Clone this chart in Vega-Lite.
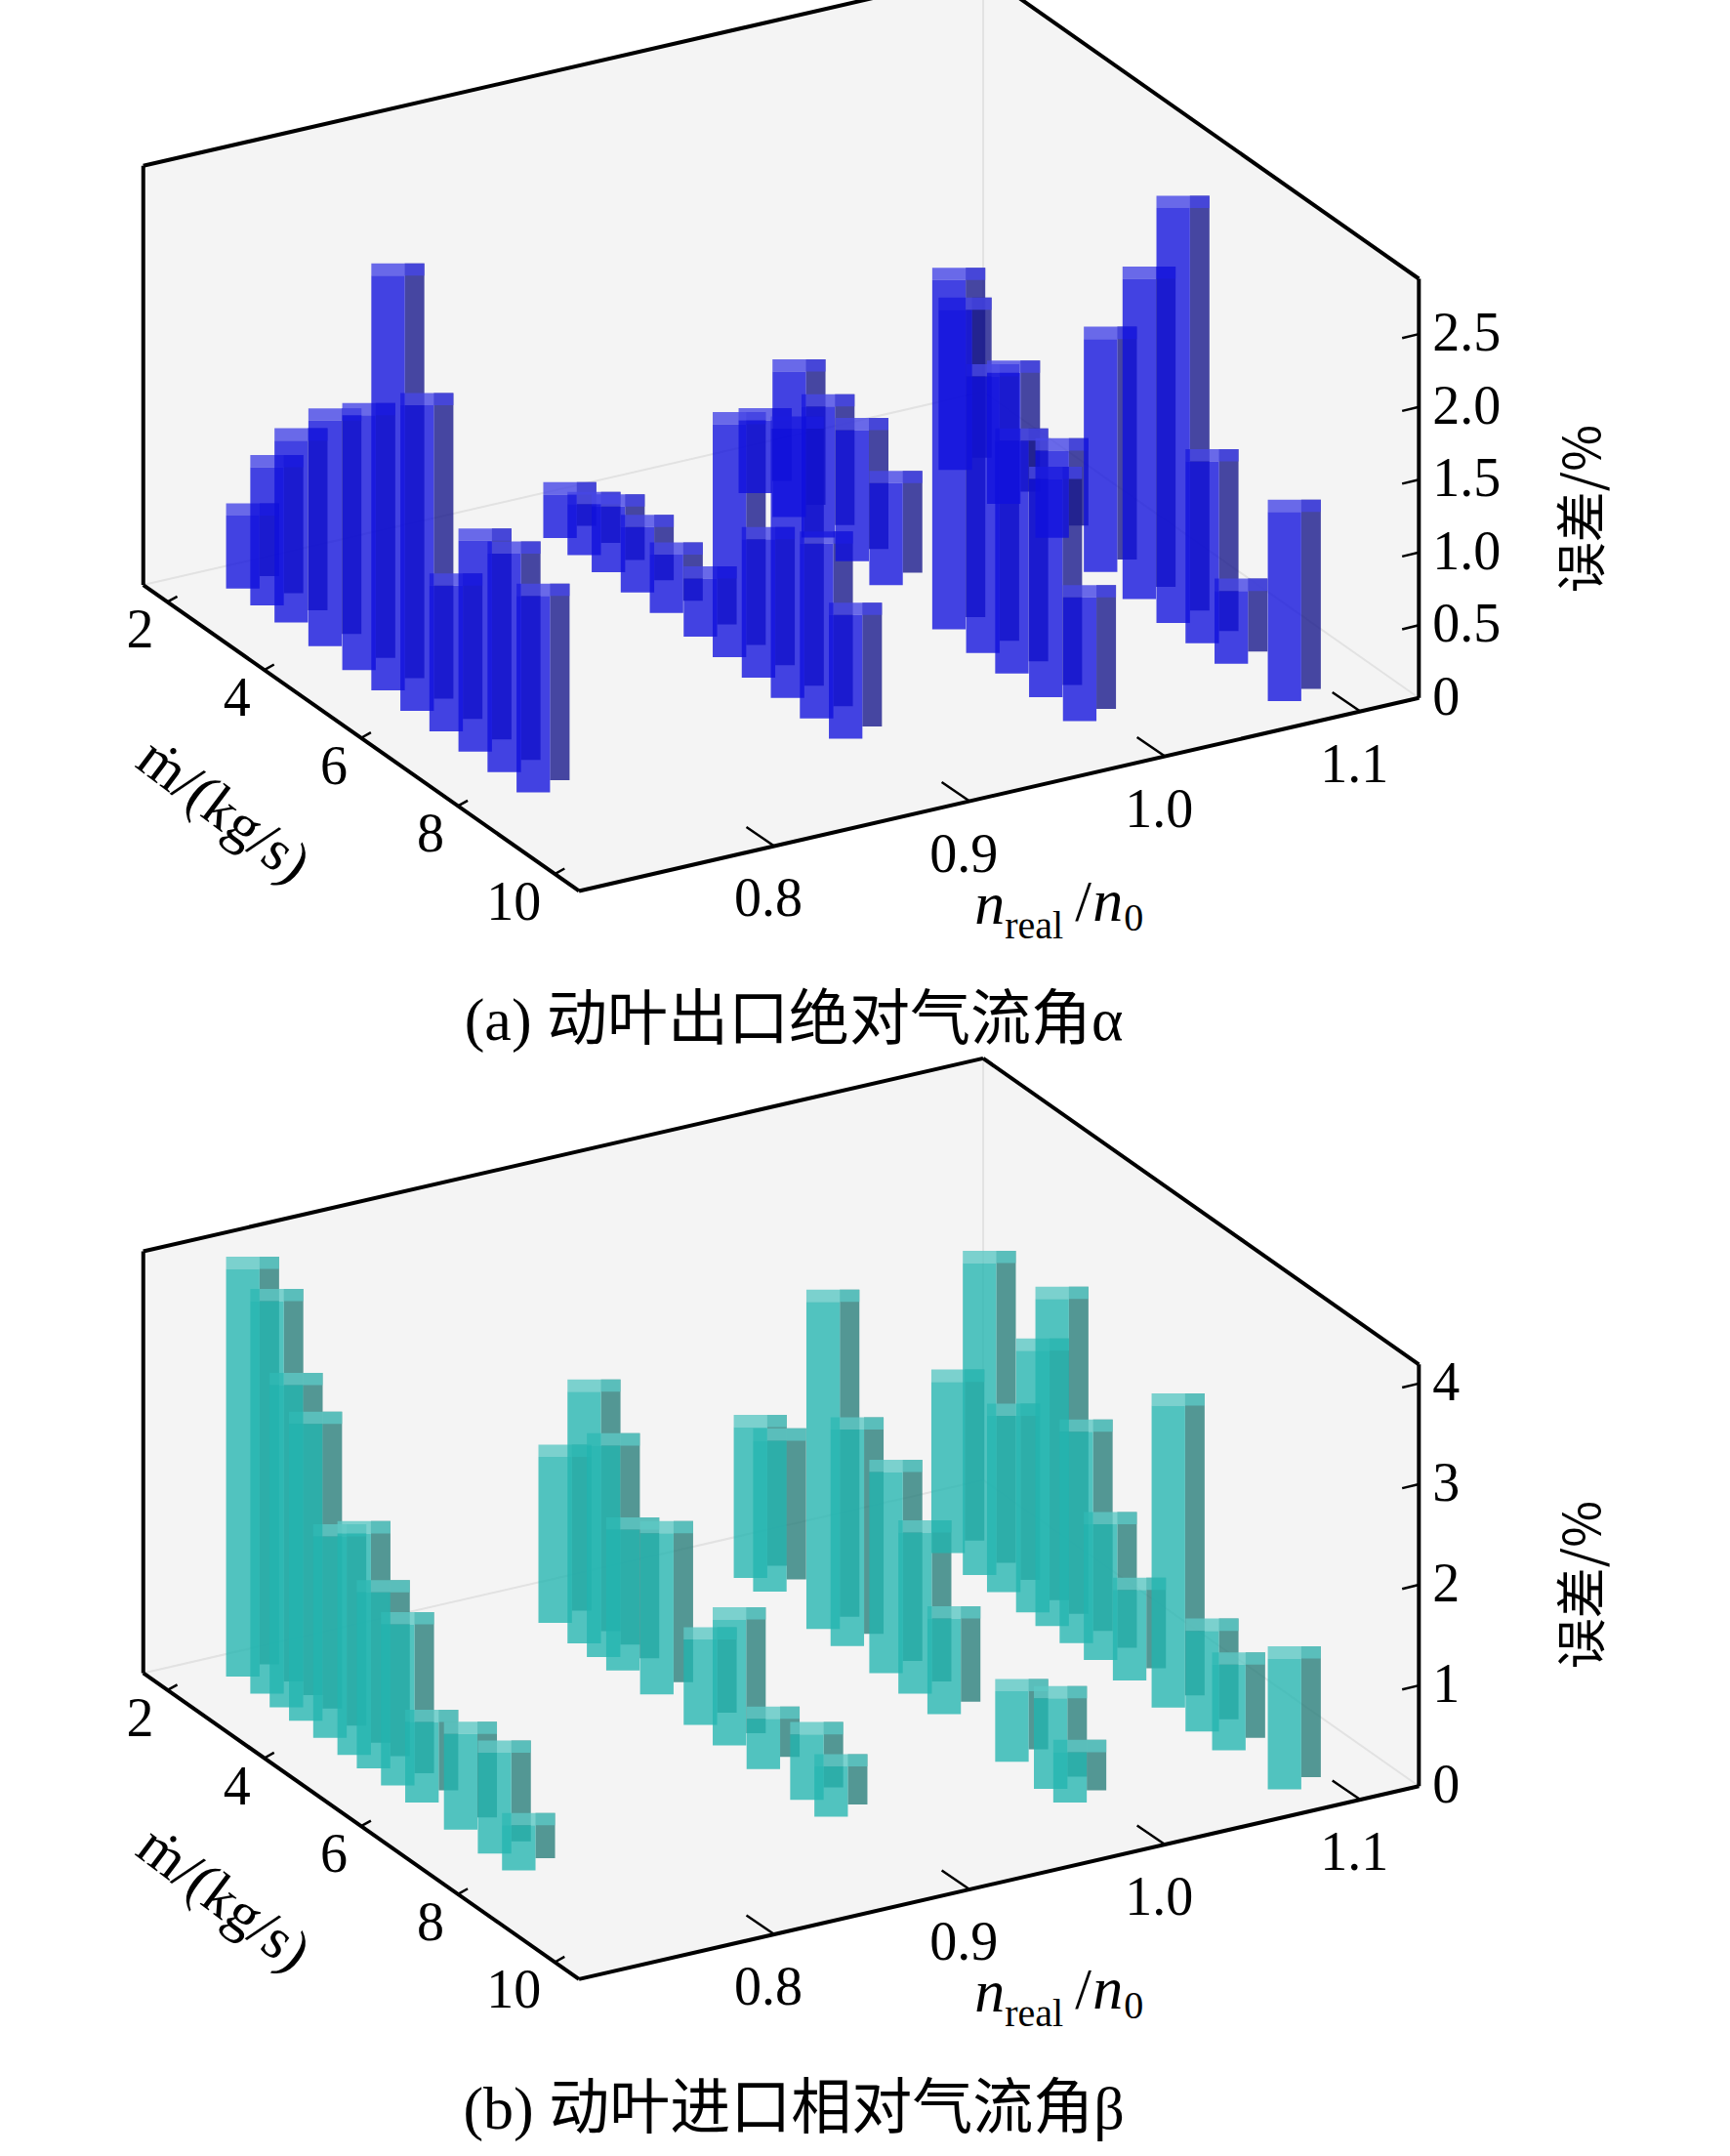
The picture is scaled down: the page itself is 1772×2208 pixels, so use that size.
{
  "$schema": "https://vega.github.io/schema/vega-lite/v6.json",
  "width": 1772,
  "height": 2208,
  "autosize": "none",
  "padding": 0,
  "background": "white",
  "config": {"view": {"stroke": null}, "text": {"font": "Liberation Serif, Noto Sans CJK SC", "fontSize": 56}},
  "datasets": {
    "bars": [
      {"panel":"a","n":1.07,"m":3,"v":1.1},{"panel":"a","n":1.07,"m":4,"v":0.9},{"panel":"a","n":1.07,"m":5,"v":0.6},{"panel":"a","n":1.07,"m":6,"v":1.6},{"panel":"a","n":1.07,"m":6.8,"v":2.2},{"panel":"a","n":1.07,"m":7.5,"v":2.85},{"panel":"a","n":1.07,"m":8.1,"v":1.25},{"panel":"a","n":1.07,"m":8.7,"v":0.5},{"panel":"a","n":1.07,"m":9.8,"v":1.3},
      {"panel":"a","n":0.98,"m":2.5,"v":0.5},{"panel":"a","n":0.98,"m":3.2,"v":1.0},{"panel":"a","n":0.98,"m":3.8,"v":0.9},{"panel":"a","n":0.98,"m":4.5,"v":0.9},{"panel":"a","n":0.98,"m":5.2,"v":0.7},{"panel":"a","n":0.98,"m":6.5,"v":2.4},{"panel":"a","n":0.98,"m":7.2,"v":1.9},{"panel":"a","n":0.98,"m":7.8,"v":1.6},{"panel":"a","n":0.98,"m":8.5,"v":1.5},{"panel":"a","n":0.98,"m":9.2,"v":0.85},
      {"panel":"a","n":0.88,"m":2.5,"v":0.3},{"panel":"a","n":0.88,"m":3,"v":0.35},{"panel":"a","n":0.88,"m":3.5,"v":0.45},{"panel":"a","n":0.88,"m":4.1,"v":0.45},{"panel":"a","n":0.88,"m":4.7,"v":0.4},{"panel":"a","n":0.88,"m":5.4,"v":0.4},{"panel":"a","n":0.88,"m":6,"v":1.6},{"panel":"a","n":0.88,"m":6.6,"v":0.95},{"panel":"a","n":0.88,"m":7.2,"v":1.85},{"panel":"a","n":0.88,"m":7.8,"v":1.2},{"panel":"a","n":0.88,"m":8.4,"v":0.85},
      {"panel":"a","n":0.73,"m":2,"v":0.5},{"panel":"a","n":0.73,"m":2.5,"v":0.95},{"panel":"a","n":0.73,"m":3,"v":1.25},{"panel":"a","n":0.73,"m":3.7,"v":1.55},{"panel":"a","n":0.73,"m":4.4,"v":1.75},{"panel":"a","n":0.73,"m":5,"v":2.85},{"panel":"a","n":0.73,"m":5.6,"v":2.1},{"panel":"a","n":0.73,"m":6.2,"v":1.0},{"panel":"a","n":0.73,"m":6.8,"v":1.45},{"panel":"a","n":0.73,"m":7.4,"v":1.5},{"panel":"a","n":0.73,"m":8,"v":1.35},
      {"panel":"b","n":1.07,"m":2.85,"v":1.7},{"panel":"b","n":1.07,"m":3.5,"v":3.1},{"panel":"b","n":1.07,"m":4,"v":1.75},{"panel":"b","n":1.07,"m":4.6,"v":2.6},{"panel":"b","n":1.07,"m":5,"v":3.25},{"panel":"b","n":1.07,"m":5.5,"v":2.1},{"panel":"b","n":1.07,"m":6,"v":1.35},{"panel":"b","n":1.07,"m":6.6,"v":0.9},{"panel":"b","n":1.07,"m":7.4,"v":3.0},{"panel":"b","n":1.07,"m":8.1,"v":1.0},{"panel":"b","n":1.07,"m":8.65,"v":0.85},{"panel":"b","n":1.07,"m":9.8,"v":1.3},
      {"panel":"b","n":0.98,"m":2.4,"v":1.5},{"panel":"b","n":0.98,"m":2.8,"v":1.5},{"panel":"b","n":0.98,"m":3.9,"v":3.25},{"panel":"b","n":0.98,"m":4.4,"v":2.15},{"panel":"b","n":0.98,"m":5.2,"v":2.0},{"panel":"b","n":0.98,"m":5.8,"v":1.6},{"panel":"b","n":0.98,"m":6.4,"v":0.95},{"panel":"b","n":0.98,"m":7.8,"v":0.7},{"panel":"b","n":0.98,"m":8.6,"v":0.9},{"panel":"b","n":0.98,"m":9,"v":0.5},
      {"panel":"b","n":0.88,"m":2.4,"v":1.65},{"panel":"b","n":0.88,"m":3,"v":2.5},{"panel":"b","n":0.88,"m":3.4,"v":2.1},{"panel":"b","n":0.88,"m":3.8,"v":1.4},{"panel":"b","n":0.88,"m":4.5,"v":1.6},{"panel":"b","n":0.88,"m":5.4,"v":0.85},{"panel":"b","n":0.88,"m":6,"v":1.25},{"panel":"b","n":0.88,"m":6.7,"v":0.5},{"panel":"b","n":0.88,"m":7.6,"v":0.65},{"panel":"b","n":0.88,"m":8.1,"v":0.5},
      {"panel":"b","n":0.73,"m":2,"v":4.05},{"panel":"b","n":0.73,"m":2.5,"v":3.9},{"panel":"b","n":0.73,"m":2.9,"v":3.2},{"panel":"b","n":0.73,"m":3.3,"v":2.95},{"panel":"b","n":0.73,"m":3.8,"v":2.0},{"panel":"b","n":0.73,"m":4.3,"v":2.2},{"panel":"b","n":0.73,"m":4.7,"v":1.75},{"panel":"b","n":0.73,"m":5.2,"v":1.6},{"panel":"b","n":0.73,"m":5.7,"v":0.8},{"panel":"b","n":0.73,"m":6.5,"v":0.95},{"panel":"b","n":0.73,"m":7.2,"v":1.0},{"panel":"b","n":0.73,"m":7.7,"v":0.45}
    ],
    "walls": [
      {"panel":"a","wall":"left","o":1,"m":1.5,"n":0.7,"z":0},{"panel":"a","wall":"left","o":2,"m":1.5,"n":0.7,"z":2.88},{"panel":"a","wall":"left","o":3,"m":1.5,"n":1.13,"z":2.88},{"panel":"a","wall":"left","o":4,"m":1.5,"n":1.13,"z":0},
      {"panel":"a","wall":"back","o":1,"m":1.5,"n":1.13,"z":0},{"panel":"a","wall":"back","o":2,"m":1.5,"n":1.13,"z":2.88},{"panel":"a","wall":"back","o":3,"m":10.5,"n":1.13,"z":2.88},{"panel":"a","wall":"back","o":4,"m":10.5,"n":1.13,"z":0},
      {"panel":"a","wall":"floor","o":1,"m":1.5,"n":0.7,"z":0},{"panel":"a","wall":"floor","o":2,"m":10.5,"n":0.7,"z":0},{"panel":"a","wall":"floor","o":3,"m":10.5,"n":1.13,"z":0},{"panel":"a","wall":"floor","o":4,"m":1.5,"n":1.13,"z":0},
      {"panel":"b","wall":"left","o":1,"m":1.5,"n":0.7,"z":0},{"panel":"b","wall":"left","o":2,"m":1.5,"n":0.7,"z":4.19},{"panel":"b","wall":"left","o":3,"m":1.5,"n":1.13,"z":4.19},{"panel":"b","wall":"left","o":4,"m":1.5,"n":1.13,"z":0},
      {"panel":"b","wall":"back","o":1,"m":1.5,"n":1.13,"z":0},{"panel":"b","wall":"back","o":2,"m":1.5,"n":1.13,"z":4.19},{"panel":"b","wall":"back","o":3,"m":10.5,"n":1.13,"z":4.19},{"panel":"b","wall":"back","o":4,"m":10.5,"n":1.13,"z":0},
      {"panel":"b","wall":"floor","o":1,"m":1.5,"n":0.7,"z":0},{"panel":"b","wall":"floor","o":2,"m":10.5,"n":0.7,"z":0},{"panel":"b","wall":"floor","o":3,"m":10.5,"n":1.13,"z":0},{"panel":"b","wall":"floor","o":4,"m":1.5,"n":1.13,"z":0}
    ],
    "rules": [
      {"panel":"a","kind":"grey","m":1.5,"n":1.13,"z":0,"m2":1.5,"n2":1.13,"z2":2.88},
      {"panel":"a","kind":"grey","m":1.5,"n":0.7,"z":0,"m2":1.5,"n2":1.13,"z2":0},
      {"panel":"a","kind":"grey","m":1.5,"n":1.13,"z":0,"m2":10.5,"n2":1.13,"z2":0},
      {"panel":"a","kind":"black","m":1.5,"n":0.7,"z":0,"m2":10.5,"n2":0.7,"z2":0},
      {"panel":"a","kind":"black","m":10.5,"n":0.7,"z":0,"m2":10.5,"n2":1.13,"z2":0},
      {"panel":"a","kind":"black","m":10.5,"n":1.13,"z":0,"m2":10.5,"n2":1.13,"z2":2.88},
      {"panel":"a","kind":"black","m":1.5,"n":0.7,"z":0,"m2":1.5,"n2":0.7,"z2":2.88},
      {"panel":"a","kind":"black","m":1.5,"n":0.7,"z":2.88,"m2":1.5,"n2":1.13,"z2":2.88},
      {"panel":"a","kind":"black","m":1.5,"n":1.13,"z":2.88,"m2":10.5,"n2":1.13,"z2":2.88},
      {"panel":"b","kind":"grey","m":1.5,"n":1.13,"z":0,"m2":1.5,"n2":1.13,"z2":4.19},
      {"panel":"b","kind":"grey","m":1.5,"n":0.7,"z":0,"m2":1.5,"n2":1.13,"z2":0},
      {"panel":"b","kind":"grey","m":1.5,"n":1.13,"z":0,"m2":10.5,"n2":1.13,"z2":0},
      {"panel":"b","kind":"black","m":1.5,"n":0.7,"z":0,"m2":10.5,"n2":0.7,"z2":0},
      {"panel":"b","kind":"black","m":10.5,"n":0.7,"z":0,"m2":10.5,"n2":1.13,"z2":0},
      {"panel":"b","kind":"black","m":10.5,"n":1.13,"z":0,"m2":10.5,"n2":1.13,"z2":4.19},
      {"panel":"b","kind":"black","m":1.5,"n":0.7,"z":0,"m2":1.5,"n2":0.7,"z2":4.19},
      {"panel":"b","kind":"black","m":1.5,"n":0.7,"z":4.19,"m2":1.5,"n2":1.13,"z2":4.19},
      {"panel":"b","kind":"black","m":1.5,"n":1.13,"z":4.19,"m2":10.5,"n2":1.13,"z2":4.19}
    ],
    "labels": [
      {"panel":"a","axis":"m","m":2,"n":0.7,"z":0,"text":"2"},{"panel":"a","axis":"m","m":4,"n":0.7,"z":0,"text":"4"},{"panel":"a","axis":"m","m":6,"n":0.7,"z":0,"text":"6"},{"panel":"a","axis":"m","m":8,"n":0.7,"z":0,"text":"8"},{"panel":"a","axis":"m","m":10,"n":0.7,"z":0,"text":"10"},
      {"panel":"a","axis":"n","m":10.5,"n":0.8,"z":0,"text":"0.8"},{"panel":"a","axis":"n","m":10.5,"n":0.9,"z":0,"text":"0.9"},{"panel":"a","axis":"n","m":10.5,"n":1.0,"z":0,"text":"1.0"},{"panel":"a","axis":"n","m":10.5,"n":1.1,"z":0,"text":"1.1"},
      {"panel":"a","axis":"z","m":10.5,"n":1.13,"z":0,"text":"0"},{"panel":"a","axis":"z","m":10.5,"n":1.13,"z":0.5,"text":"0.5"},{"panel":"a","axis":"z","m":10.5,"n":1.13,"z":1.0,"text":"1.0"},{"panel":"a","axis":"z","m":10.5,"n":1.13,"z":1.5,"text":"1.5"},{"panel":"a","axis":"z","m":10.5,"n":1.13,"z":2.0,"text":"2.0"},{"panel":"a","axis":"z","m":10.5,"n":1.13,"z":2.5,"text":"2.5"},
      {"panel":"b","axis":"m","m":2,"n":0.7,"z":0,"text":"2"},{"panel":"b","axis":"m","m":4,"n":0.7,"z":0,"text":"4"},{"panel":"b","axis":"m","m":6,"n":0.7,"z":0,"text":"6"},{"panel":"b","axis":"m","m":8,"n":0.7,"z":0,"text":"8"},{"panel":"b","axis":"m","m":10,"n":0.7,"z":0,"text":"10"},
      {"panel":"b","axis":"n","m":10.5,"n":0.8,"z":0,"text":"0.8"},{"panel":"b","axis":"n","m":10.5,"n":0.9,"z":0,"text":"0.9"},{"panel":"b","axis":"n","m":10.5,"n":1.0,"z":0,"text":"1.0"},{"panel":"b","axis":"n","m":10.5,"n":1.1,"z":0,"text":"1.1"},
      {"panel":"b","axis":"z","m":10.5,"n":1.13,"z":0,"text":"0"},{"panel":"b","axis":"z","m":10.5,"n":1.13,"z":1,"text":"1"},{"panel":"b","axis":"z","m":10.5,"n":1.13,"z":2,"text":"2"},{"panel":"b","axis":"z","m":10.5,"n":1.13,"z":3,"text":"3"},{"panel":"b","axis":"z","m":10.5,"n":1.13,"z":4,"text":"4"},
      {"panel":"a","axis":"mt","m":6.3,"n":0.62,"z":0,"text":"ṁ/(kg/s)"},{"panel":"b","axis":"mt","m":6.3,"n":0.62,"z":0,"text":"ṁ/(kg/s)"},
      {"panel":"a","axis":"zt","m":10.5,"n":1.13,"z":1.3,"text":"误差/%"},{"panel":"b","axis":"zt","m":10.5,"n":1.13,"z":2.0,"text":"误差/%"},
      {"panel":"a","axis":"cap","m":10.5,"n":0.8,"z":0,"text":"(a) 动叶出口绝对气流角α"},{"panel":"b","axis":"cap","m":10.5,"n":0.8,"z":0,"text":"(b) 动叶进口相对气流角β"},
      {"panel":"a","axis":"nt","m":10.5,"n":0.9,"z":0,"text":"n"},{"panel":"b","axis":"nt","m":10.5,"n":0.9,"z":0,"text":"n"}
    ]
  },
  "layer": [
    {
      "data": {"name": "walls"},
      "transform": [
        {"calculate": "datum.panel=='a'?0:800", "as": "off"},
        {"calculate": "datum.panel=='a'?107:74", "as": "k"},
        {"calculate": "415+34.7*(datum.m-10.5)+1400*(datum.n-0.7)", "as": "xs"},
        {"calculate": "630+25*(datum.m-10.5)-330*(datum.n-0.7)+datum.off-datum.z*datum.k", "as": "ys"},
        {"calculate": "datum.panel+datum.wall", "as": "poly"}
      ],
      "mark": {"type": "line", "fill": "#f4f4f4", "stroke": "#ececec", "strokeWidth": 1, "interpolate": "linear-closed"},
      "encoding": {
        "x": {"field": "xs", "type": "quantitative", "scale": {"domain": [0, 1240], "range": [0, 1772], "zero": false, "nice": false}, "axis": null},
        "y": {"field": "ys", "type": "quantitative", "scale": {"domain": [-25, 1560], "range": [0, 2208], "zero": false, "nice": false}, "axis": null},
        "detail": {"field": "poly"},
        "order": {"field": "o"}
      }
    },
    {
      "data": {"name": "rules"},
      "transform": [
        {"filter": "datum.kind=='grey'"},
        {"calculate": "datum.panel=='a'?0:800", "as": "off"},
        {"calculate": "datum.panel=='a'?107:74", "as": "k"},
        {"calculate": "415+34.7*(datum.m-10.5)+1400*(datum.n-0.7)", "as": "x1"},
        {"calculate": "630+25*(datum.m-10.5)-330*(datum.n-0.7)+datum.off-datum.z*datum.k", "as": "y1"},
        {"calculate": "415+34.7*(datum.m2-10.5)+1400*(datum.n2-0.7)", "as": "x2"},
        {"calculate": "630+25*(datum.m2-10.5)-330*(datum.n2-0.7)+datum.off-datum.z2*datum.k", "as": "y2"}
      ],
      "mark": {"type": "rule", "color": "#e2e2e2", "strokeWidth": 2},
      "encoding": {
        "x": {"field": "x1", "type": "quantitative", "scale": {"domain": [0, 1240], "range": [0, 1772], "zero": false, "nice": false}, "axis": null},
        "y": {"field": "y1", "type": "quantitative", "scale": {"domain": [-25, 1560], "range": [0, 2208], "zero": false, "nice": false}, "axis": null},
        "x2": {"field": "x2"},
        "y2": {"field": "y2"}
      }
    },
    {
      "data": {"name": "bars"},
      "transform": [
        {"calculate": "datum.panel=='a'?0:800", "as": "off"},
        {"calculate": "datum.panel=='a'?107:74", "as": "k"},
        {"calculate": "415+34.7*(datum.m-10.5)+1400*(datum.n-0.7)", "as": "xs"},
        {"calculate": "630+25*(datum.m-10.5)-330*(datum.n-0.7)+datum.off", "as": "yb"},
        {"calculate": "datum.yb-datum.v*datum.k", "as": "yt"},
        {"calculate": "datum.xs+24", "as": "xa"},
        {"calculate": "datum.xs+38", "as": "xb"},
        {"calculate": "datum.yt-9", "as": "ya"},
        {"calculate": "datum.yb-9", "as": "yc"}
      ],
      "layer": [
        {
          "mark": {"type": "rect", "opacity": 0.8},
          "encoding": {
            "x": {"field": "xa", "type": "quantitative", "scale": {"domain": [0, 1240], "range": [0, 1772], "zero": false, "nice": false}, "axis": null},
            "x2": {"field": "xb"},
            "y": {"field": "ya", "type": "quantitative", "scale": {"domain": [-25, 1560], "range": [0, 2208], "zero": false, "nice": false}, "axis": null},
            "y2": {"field": "yc"},
            "color": {"field": "panel", "type": "nominal", "scale": {"domain": ["a", "b"], "range": ["#1a1a8c", "#2a7f7c"]}, "legend": null}
          }
        },
        {
          "mark": {"type": "rect", "opacity": 0.8},
          "encoding": {
            "x": {"field": "xs", "type": "quantitative", "scale": {"domain": [0, 1240], "range": [0, 1772], "zero": false, "nice": false}, "axis": null},
            "x2": {"field": "xb"},
            "y": {"field": "ya", "type": "quantitative", "scale": {"domain": [-25, 1560], "range": [0, 2208], "zero": false, "nice": false}, "axis": null},
            "y2": {"field": "yt"},
            "color": {"field": "panel", "type": "nominal", "scale": {"domain": ["a", "b"], "range": ["#4646e6", "#5cc8c4"]}, "legend": null}
          }
        },
        {
          "mark": {"type": "rect", "opacity": 0.78},
          "encoding": {
            "x": {"field": "xs", "type": "quantitative", "scale": {"domain": [0, 1240], "range": [0, 1772], "zero": false, "nice": false}, "axis": null},
            "x2": {"field": "xa"},
            "y": {"field": "yt", "type": "quantitative", "scale": {"domain": [-25, 1560], "range": [0, 2208], "zero": false, "nice": false}, "axis": null},
            "y2": {"field": "yb"},
            "color": {"field": "panel", "type": "nominal", "scale": {"domain": ["a", "b"], "range": ["#1010dd", "#22b5b0"]}, "legend": null}
          }
        }
      ],
      "resolve": {"scale": {"color": "independent"}}
    },
    {
      "data": {"name": "rules"},
      "transform": [
        {"filter": "datum.kind=='black'"},
        {"calculate": "datum.panel=='a'?0:800", "as": "off"},
        {"calculate": "datum.panel=='a'?107:74", "as": "k"},
        {"calculate": "415+34.7*(datum.m-10.5)+1400*(datum.n-0.7)", "as": "x1"},
        {"calculate": "630+25*(datum.m-10.5)-330*(datum.n-0.7)+datum.off-datum.z*datum.k", "as": "y1"},
        {"calculate": "415+34.7*(datum.m2-10.5)+1400*(datum.n2-0.7)", "as": "x2"},
        {"calculate": "630+25*(datum.m2-10.5)-330*(datum.n2-0.7)+datum.off-datum.z2*datum.k", "as": "y2"}
      ],
      "mark": {"type": "rule", "color": "black", "strokeWidth": 4},
      "encoding": {
        "x": {"field": "x1", "type": "quantitative", "scale": {"domain": [0, 1240], "range": [0, 1772], "zero": false, "nice": false}, "axis": null},
        "y": {"field": "y1", "type": "quantitative", "scale": {"domain": [-25, 1560], "range": [0, 2208], "zero": false, "nice": false}, "axis": null},
        "x2": {"field": "x2"},
        "y2": {"field": "y2"}
      }
    },
    {
      "data": {"name": "labels"},
      "transform": [
        {"filter": "datum.axis=='m'||datum.axis=='n'||datum.axis=='z'"},
        {"calculate": "datum.panel=='a'?0:800", "as": "off"},
        {"calculate": "datum.panel=='a'?107:74", "as": "k"},
        {"calculate": "415+34.7*(datum.m-10.5)+1400*(datum.n-0.7)", "as": "x1"},
        {"calculate": "630+25*(datum.m-10.5)-330*(datum.n-0.7)+datum.off-datum.z*datum.k", "as": "y1"},
        {"calculate": "datum.axis=='m'?datum.x1+7:(datum.axis=='n'?datum.x1-20:datum.x1-12)", "as": "x2"},
        {"calculate": "datum.axis=='m'?datum.y1-4:(datum.axis=='n'?datum.y1-14:datum.y1+3)", "as": "y2"}
      ],
      "mark": {"type": "rule", "color": "black", "strokeWidth": 2.5},
      "encoding": {
        "x": {"field": "x1", "type": "quantitative", "scale": {"domain": [0, 1240], "range": [0, 1772], "zero": false, "nice": false}, "axis": null},
        "y": {"field": "y1", "type": "quantitative", "scale": {"domain": [-25, 1560], "range": [0, 2208], "zero": false, "nice": false}, "axis": null},
        "x2": {"field": "x2"},
        "y2": {"field": "y2"}
      }
    },
    {
      "data": {"name": "labels"},
      "transform": [
        {"calculate": "datum.panel=='a'?0:800", "as": "off"},
        {"calculate": "datum.panel=='a'?107:74", "as": "k"},
        {"calculate": "415+34.7*(datum.m-10.5)+1400*(datum.n-0.7)", "as": "x1"},
        {"calculate": "630+25*(datum.m-10.5)-330*(datum.n-0.7)+datum.off-datum.z*datum.k", "as": "y1"}
      ],
      "encoding": {
        "x": {"field": "x1", "type": "quantitative", "scale": {"domain": [0, 1240], "range": [0, 1772], "zero": false, "nice": false}, "axis": null},
        "y": {"field": "y1", "type": "quantitative", "scale": {"domain": [-25, 1560], "range": [0, 2208], "zero": false, "nice": false}, "axis": null},
        "text": {"field": "text"}
      },
      "layer": [
        {"transform": [{"filter": "datum.axis=='m'"}], "mark": {"type": "text", "align": "right", "baseline": "middle", "dx": -14, "dy": 30}},
        {"transform": [{"filter": "datum.axis=='n'"}], "mark": {"type": "text", "align": "center", "baseline": "top", "dx": -6, "dy": 28}},
        {"transform": [{"filter": "datum.axis=='z'"}], "mark": {"type": "text", "align": "left", "baseline": "middle", "dx": 14}},
        {"transform": [{"filter": "datum.axis=='mt'"}], "mark": {"type": "text", "align": "center", "baseline": "middle", "angle": 37, "dx": 20, "dy": 20, "fontSize": 60}},
        {"transform": [{"filter": "datum.axis=='zt'"}], "mark": {"type": "text", "align": "center", "baseline": "middle", "angle": 270, "dy": 170, "font": "Noto Sans CJK SC", "fontSize": 52}},
        {"transform": [{"filter": "datum.axis=='cap'"}], "mark": {"type": "text", "align": "center", "baseline": "middle", "dx": 20, "dy": 180, "fontSize": 62}},
        {"transform": [{"filter": "datum.axis=='nt'"}], "mark": {"type": "text", "align": "left", "baseline": "alphabetic", "dx": 5, "dy": 125, "fontStyle": "italic", "fontSize": 62}},
        {"transform": [{"filter": "datum.axis=='nt'"}], "encoding": {"text": {"value": "real"}}, "mark": {"type": "text", "align": "left", "baseline": "alphabetic", "dx": 36, "dy": 140, "fontSize": 40}},
        {"transform": [{"filter": "datum.axis=='nt'"}], "encoding": {"text": {"value": "/"}}, "mark": {"type": "text", "align": "left", "baseline": "alphabetic", "dx": 108, "dy": 122, "fontSize": 60}},
        {"transform": [{"filter": "datum.axis=='nt'"}], "encoding": {"text": {"value": "n"}}, "mark": {"type": "text", "align": "left", "baseline": "alphabetic", "dx": 126, "dy": 122, "fontSize": 62, "fontStyle": "italic"}},
        {"transform": [{"filter": "datum.axis=='nt'"}], "encoding": {"text": {"value": "0"}}, "mark": {"type": "text", "align": "left", "baseline": "alphabetic", "dx": 158, "dy": 132, "fontSize": 40}}
      ]
    }
  ]
}
